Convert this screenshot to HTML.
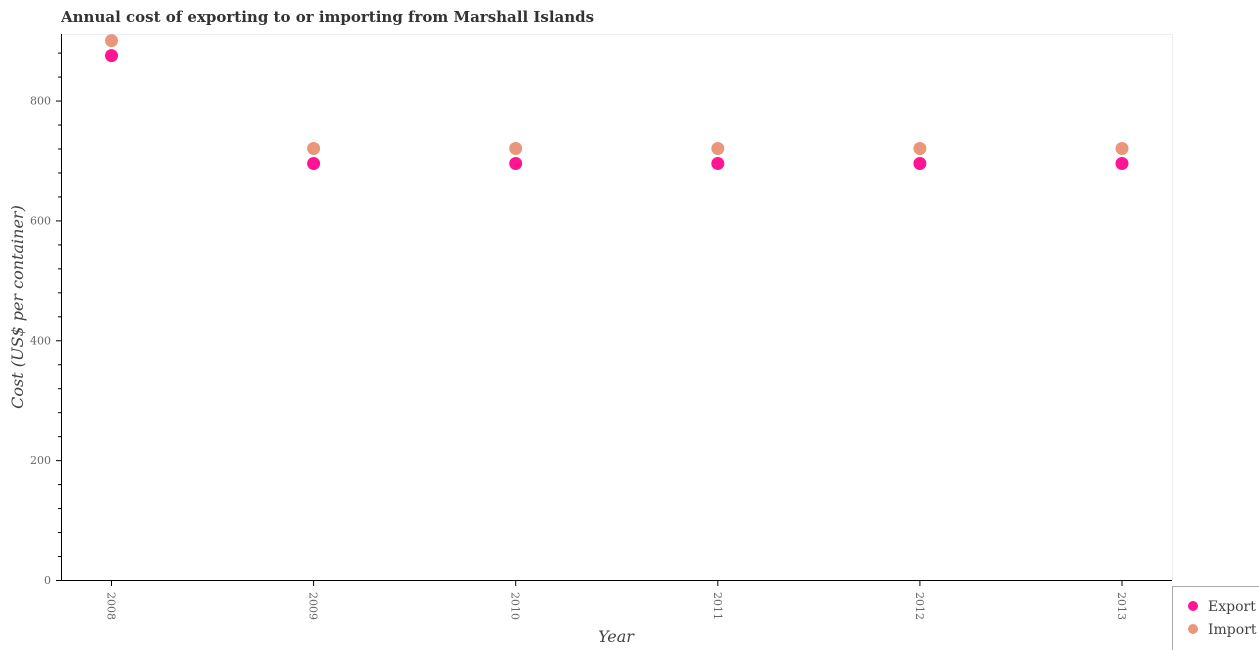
<!DOCTYPE html>
<html><head><meta charset="utf-8"><style>
body{margin:0;background:#fff;}
svg{display:block;font-family:"DejaVu Serif","Liberation Serif",serif;}
</style></head><body>
<svg id="c" width="1259" height="650">
<text x="61" y="22" font-size="15" font-weight="bold" fill="#333">Annual cost of exporting to or importing from Marshall Islands</text>
<line x1="61" y1="34.5" x2="1172" y2="34.5" stroke="#eee"/>
<line x1="1172.5" y1="34" x2="1172.5" y2="580" stroke="#eee"/>
<g id="axes"></g>
<g id="marks"></g>
<text x="616" y="642" font-size="16" font-style="italic" fill="#444" text-anchor="middle">Year</text>
<text transform="translate(23,307) rotate(-90)" font-size="16" font-style="italic" fill="#444" text-anchor="middle">Cost (US$ per container)</text>
<g>
<rect x="1172.5" y="586.5" width="90" height="66" fill="#fff" stroke="#aaa"/>
<circle cx="1193" cy="606" r="5" fill="#ff1493"/>
<text x="1208" y="611" font-size="14" fill="#444">Export</text>
<circle cx="1193" cy="629" r="5" fill="#e9967a"/>
<text x="1208" y="634" font-size="14" fill="#444">Import</text>
</g>
</svg>
<script>
const years=["2008","2009","2010","2011","2012","2013"];
const exportVals=[875,695,695,695,695,695];
const importVals=[900,720,720,720,720,720];
const yTicks=[0,200,400,600,800];
const NS="http://www.w3.org/2000/svg";
const x0=111.5,dx=202.1,yb=580,k=0.5993;
function X(i){return x0+i*dx;}
function Y(v){return yb-v*k;}
function mk(t,a,p){const e=document.createElementNS(NS,t);for(const n in a)e.setAttribute(n,a[n]);p.appendChild(e);return e;}
const ax=document.getElementById('axes'),mg=document.getElementById('marks');
let l=mk('line',{x1:61.5,y1:34,x2:61.5,y2:580.5,stroke:'#000'},ax);


l=mk('line',{x1:61,y1:580.5,x2:1172,y2:580.5,stroke:'#000'},ax);


for(let v=0;v<=880;v+=40){
 const major=v%200===0;
 const t=mk('line',{x1:major?56:58,y1:Y(v)+0.5,x2:61,y2:Y(v)+0.5,stroke:'#000'},ax);
 
 
}
yTicks.forEach(v=>{
 const t=mk('text',{x:51,y:Y(v)+4,'font-size':11,fill:'#666','text-anchor':'end'},ax);
 t.textContent=v;
 
 
});
years.forEach((yr,i)=>{
 const t=mk('line',{x1:X(i),y1:580,x2:X(i),y2:586,stroke:'#000'},ax);
 
 
 const tx=mk('text',{transform:`translate(${X(i)-4},592) rotate(90)`,'font-size':11,fill:'#666'},ax);
 tx.textContent=yr;
 
 
});
years.forEach((yr,i)=>{
 const a=mk('circle',{cx:X(i),cy:Y(importVals[i]),r:6.5,fill:'#e9967a'},mg);
 
 
 const b=mk('circle',{cx:X(i),cy:Y(exportVals[i]),r:6.5,fill:'#ff1493'},mg);
 
 
});
</script>
</body></html>
